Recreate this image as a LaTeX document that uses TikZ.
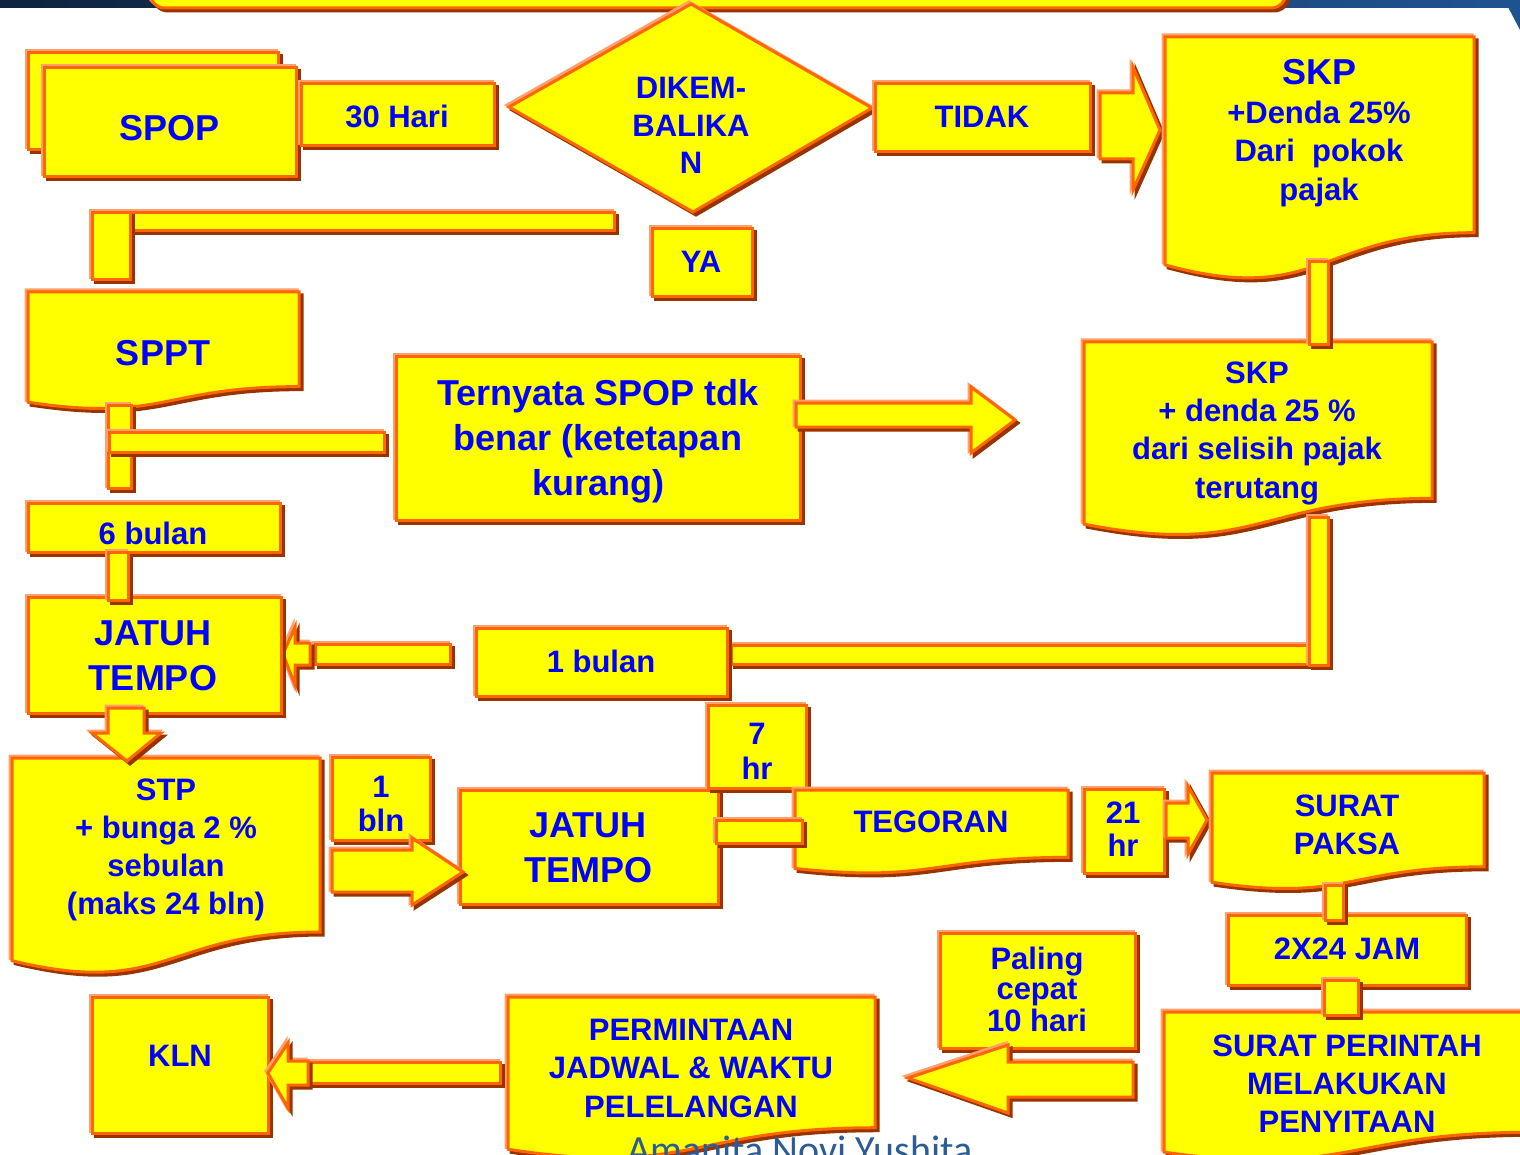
\documentclass[tikz,border=0pt]{standalone}
\usepackage{fontspec}
\setmainfont{Liberation Sans}
\newfontfamily\wmfont{Carlito}
\definecolor{yel}{HTML}{FFFF00}
\definecolor{org}{HTML}{FF6600}
\definecolor{hlc}{HTML}{FFA070}
\definecolor{shc}{HTML}{993300}
\definecolor{tblue}{HTML}{0000FF}
\definecolor{nvL}{HTML}{0E2440}
\definecolor{nvR}{HTML}{1F5390}
\definecolor{wmc}{HTML}{2B5C97}
\newcommand\emb[1]{%
  \filldraw[fill=hlc,draw=hlc,line width=3pt,shift={(-2,-2)}] #1;
  \filldraw[fill=shc,draw=shc,line width=3pt,shift={(3,3)}] #1;
  \filldraw[fill=yel,draw=org,line width=3pt] #1;}
\newcommand\docp[4]{(#1,#2) -- ({#1+#3},#2) -- ({#1+#3},{#2+0.802*#4}) .. controls ({#1+0.5*#3},{#2+0.802*#4}) and ({#1+0.5*#3},{#2+1.107*#4}) .. (#1,{#2+0.934*#4}) -- cycle}
\newcommand\ML[1]{\begin{tabular}[t]{@{}c@{}}#1\end{tabular}}
\newcommand\fs[2]{\bfseries\fontsize{#1}{#2}\selectfont}
\tikzset{lbl/.style={text=tblue, inner sep=0pt, anchor=base, font=\fs{31}{38}}}
\begin{document}
\begin{tikzpicture}[x=1pt,y=-1pt]
\useasboundingbox (0,0) rectangle (1520,1155);
\clip (0,0) rectangle (1520,1155);
\fill[white] (0,0) rectangle (1520,1155);
% top band
\fill[left color=nvL, right color=nvR] (0,0) rectangle (1520,8);
\fill[nvR] (1508,7) -- (1520,7) -- (1520,30) -- cycle;
\emb{[rounded corners=15pt] (150,-40) rectangle (1286,8)}
% boxes
\emb{(28,53) rectangle (278,150)}
\emb{(44,68) rectangle (296,177)}
\emb{(301,84) rectangle (494,146)}
\emb{(691,4) -- (872,108) -- (693,212) -- (509,107) -- cycle}
\emb{(875,84) rectangle (1090,152)}
\emb{(1100,93) -- (1133,93) -- (1133,67) -- (1160,130) -- (1133,190) -- (1133,159) -- (1100,159) -- cycle}
\emb{\docp{1165}{37}{309}{244}}
\emb{(130,213) rectangle (614,231)}
\emb{(92,213) rectangle (130,280)}
\emb{(652,229) rectangle (752,297)}
\emb{\docp{28}{292}{271}{118}}
\emb{(108,405) rectangle (131,488)}
\emb{(109,432) rectangle (384,452)}
\emb{(396,357) rectangle (800,520)}
\emb{(796,403) -- (971,403) -- (971,387) -- (1015,420) -- (971,453) -- (971,427) -- (796,427) -- cycle}
\emb{\docp{1084}{342}{348}{195}}
\emb{(1309,262) rectangle (1328,345)}
\emb{(731,645) rectangle (1311,664)}
\emb{(1309,517) rectangle (1328,665)}
\emb{(476,628) rectangle (727,696)}
\emb{(315,644) rectangle (450,664)}
\emb{(283,654) -- (295,627) -- (295,643) -- (310,643) -- (310,665) -- (295,665) -- (295,685) -- cycle}
\emb{(28,503) rectangle (280,552)}
\emb{(28,597) rectangle (281,713)}
\emb{(108,552) rectangle (128,600)}
\emb{\docp{12}{758}{308}{217}}
\emb{(108,708) -- (144,708) -- (144,733) -- (161,733) -- (127,761) -- (92,733) -- (108,733) -- cycle}
\emb{(332,757) rectangle (430,840)}
\emb{(460,790) rectangle (718,904)}
\emb{(332,850) -- (412,850) -- (412,838) -- (463,872) -- (412,905) -- (412,892) -- (332,892) -- cycle}
\emb{(708,705) rectangle (806,788)}
\emb{\docp{795}{790}{273}{84}}
\emb{(716,820) rectangle (802,843)}
\emb{(1084,789) rectangle (1164,873)}
\emb{(1166,803) -- (1188,803) -- (1188,786) -- (1207,820) -- (1188,854) -- (1188,838) -- (1166,838) -- cycle}
\emb{\docp{1212}{773}{272}{117}}
\emb{(1228,915) rectangle (1466,985)}
\emb{(1325,885) rectangle (1343,920)}
\emb{\docp{1164}{1012}{366}{150}}
\emb{(1324,980) rectangle (1358,1015)}
\emb{(940,933) rectangle (1135,1048)}
\emb{(1133,1062) -- (1008,1062) -- (1008,1045) -- (908,1078) -- (1008,1113) -- (1008,1097) -- (1133,1097) -- cycle}
\emb{\docp{508}{997}{367}{163}}
\emb{(92,997) rectangle (268,1133)}
\emb{(308,1062) rectangle (500,1083)}
\emb{(268,1073) -- (288,1043) -- (288,1061) -- (308,1061) -- (308,1085) -- (288,1085) -- (288,1108) -- cycle}
% labels
\node[lbl, font=\fs{36}{45}] (spop) at (169.5,141) {SPOP};
\node[lbl] (hari) at (397,128) {30 Hari};
\node[lbl, font=\fs{31}{37.5}] (dikem) at (691,99) {\ML{DIKEM-\\BALIKA\\N}};
\node[lbl] (tidak) at (982,128) {TIDAK};
\node[lbl, font=\fs{31}{38.5}] (skpa) at (1319,85) {\ML{{\fontsize{36}{38.5}\selectfont SKP}\\+Denda 25\%\\Dari\ \ pokok\\pajak}};
\node[lbl] (ya) at (701,273) {YA};
\node[lbl, font=\fs{36}{45}] (sppt) at (163,366) {SPPT};
\node[lbl, font=\fs{36}{45}] (tern) at (598,405) {\ML{Ternyata SPOP tdk\\benar (ketetapan\\kurang)}};
\node[lbl, font=\fs{31}{38.5}] (skpb) at (1257,383) {\ML{SKP\\+ denda 25 \%\\dari selisih pajak\\terutang}};
\node[lbl] (bln6) at (153,544) {6 bulan};
\node[lbl, font=\fs{36}{45}] (jt1) at (153,645) {\ML{JATUH\\TEMPO}};
\node[lbl] (bln1) at (601,672) {1 bulan};
\node[lbl, font=\fs{31}{38.3}] (stp) at (166,800) {\ML{STP\\+ bunga 2 \%\\sebulan\\(maks 24 bln)}};
\node[lbl, font=\fs{31}{34}] (b1) at (381,797) {\ML{1\\bln}};
\node[lbl, font=\fs{31}{35}] (hr7) at (757,744) {\ML{7\\hr}};
\node[lbl, font=\fs{36}{45}] (jt2) at (588,837) {\ML{JATUH\\TEMPO}};
\node[lbl] (teg) at (931,832) {TEGORAN};
\node[lbl, font=\fs{31}{33}] (hr21) at (1123,823) {\ML{21\\hr}};
\node[lbl, font=\fs{31}{38}] (paksa) at (1347,816) {\ML{SURAT\\PAKSA}};
\node[lbl] (jam) at (1347,959) {2X24 JAM};
\node[lbl, font=\fs{31}{30.5}] (paling) at (1037,969) {\ML{Paling\\cepat\\10 hari}};
\node[lbl, font=\fs{31}{38}] (perintah) at (1347,1056) {\ML{SURAT PERINTAH\\MELAKUKAN\\PENYITAAN}};
\node[lbl, font=\fs{31}{38.5}] (minta) at (691,1040) {\ML{PERMINTAAN\\JADWAL \& WAKTU\\PELELANGAN}};
\node[lbl] (kln) at (180,1066) {KLN};
\node[text=wmc, inner sep=0pt, anchor=base, font=\wmfont\fontsize{40}{40}\selectfont] (wm) at (800,1163) {Amanita Novi Yushita};
\end{tikzpicture}
\end{document}
